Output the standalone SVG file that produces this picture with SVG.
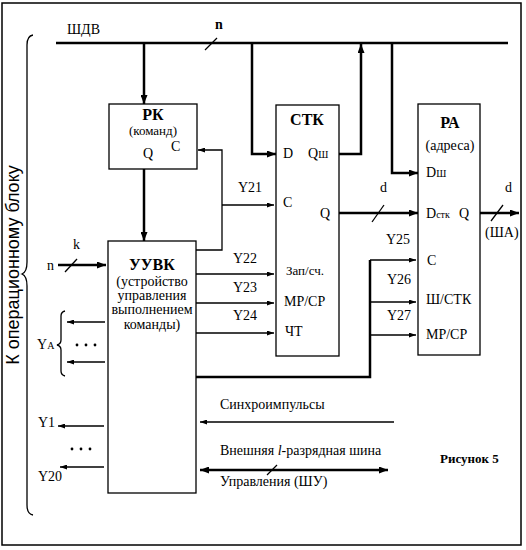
<svg xmlns="http://www.w3.org/2000/svg" width="526" height="550" viewBox="0 0 526 550">
<defs>
<marker id="ah" markerUnits="userSpaceOnUse" markerWidth="9" markerHeight="7" refX="9" refY="3.5" orient="auto-start-reverse"><path d="M0,0 L9,3.5 L0,7 z" fill="#000"/></marker>
<marker id="as" markerUnits="userSpaceOnUse" markerWidth="7" markerHeight="5" refX="7" refY="2.5" orient="auto"><path d="M0,0 L7,2.5 L0,5 z" fill="#000"/></marker>
</defs>
<style>
.b{font-weight:bold}
.box{fill:#fff;stroke:#000;stroke-width:1.3}
.thick{fill:none;stroke:#000;stroke-width:2.5}
.thin{fill:none;stroke:#000;stroke-width:1.3}
.sub{font-size:10px}
</style>
<rect x="2" y="3" width="519" height="542" fill="#fff" stroke="#000" stroke-width="1.5"/>

<g id="side-label">
<path class="thin" d="M33,35 Q27,36 27,45 L27,262 Q27,272 22,274 Q27,276 27,286 L27,505 Q27,514 33,515"/>
<text font-family="Liberation Sans, Arial, sans-serif" transform="translate(19,265) rotate(-90)" text-anchor="middle" font-size="18">К операционному блоку</text>
</g>

<g id="bus" font-family="Liberation Serif, serif" font-size="14">
<line class="thick" x1="56" y1="43" x2="508" y2="43"/>
<line class="thin" x1="205" y1="50" x2="217" y2="38"/>
<text x="67" y="34">ШДВ</text>
<text x="215" y="29" class="b">n</text>
</g>

<g id="RK" font-family="Liberation Serif, serif" font-size="14">
<rect class="box" x="109" y="104" width="88" height="65"/>
<text x="153" y="120" class="b" text-anchor="middle" font-size="16">РК</text>
<text x="153" y="135" text-anchor="middle" font-size="13">(команд)</text>
<text x="143" y="158">Q</text>
<text x="171" y="151">C</text>
</g>

<g id="UUVK" font-family="Liberation Serif, serif" font-size="14">
<rect class="box" x="108" y="241" width="88" height="252"/>
<text x="152" y="270" class="b" text-anchor="middle" font-size="16">УУВК</text>
<text x="152" y="286" text-anchor="middle">(устройство</text>
<text x="152" y="300" text-anchor="middle">управления</text>
<text x="152" y="314" text-anchor="middle">выполнением</text>
<text x="152" y="329" text-anchor="middle">команды)</text>
</g>

<g id="STK" font-family="Liberation Serif, serif" font-size="14">
<rect class="box" x="276" y="105" width="63" height="251"/>
<text x="307" y="125" class="b" text-anchor="middle" font-size="16">СТК</text>
<text x="283" y="158">D</text>
<text x="308" y="158">Q<tspan class="sub">Ш</tspan></text>
<text x="283" y="207">C</text>
<text x="320" y="218">Q</text>
<text x="286" y="275" font-size="13">Зап/сч.</text>
<text x="284" y="306">МР/СР</text>
<text x="285" y="336">ЧТ</text>
</g>

<g id="RA" font-family="Liberation Serif, serif" font-size="14">
<rect class="box" x="418" y="104" width="62" height="251"/>
<text x="450" y="128" class="b" text-anchor="middle" font-size="16">РА</text>
<text x="450" y="150" text-anchor="middle">(адреса)</text>
<text x="426" y="177">D<tspan class="sub">Ш</tspan></text>
<text x="426" y="218">D<tspan class="sub">стк</tspan></text>
<text x="459" y="218">Q</text>
<text x="427" y="265">C</text>
<text x="426" y="304">Ш/СТК</text>
<text x="426" y="339">МР/СР</text>
</g>

<g id="connectors" font-family="Liberation Serif, serif" font-size="14">
<line class="thick" x1="144" y1="43" x2="144" y2="104" marker-end="url(#ah)"/>
<line class="thick" x1="144" y1="169" x2="144" y2="241" marker-end="url(#ah)"/>
<polyline class="thick" points="252,43 252,154 276,154" marker-end="url(#ah)"/>
<polyline class="thick" points="339,154 361,154 361,44" marker-end="url(#ah)"/>
<polyline class="thick" points="392,43 392,173 418,173" marker-end="url(#ah)"/>

<line class="thick" x1="339" y1="213" x2="418" y2="213" marker-end="url(#ah)"/>
<line class="thin" x1="372" y1="222" x2="384" y2="205"/>
<text x="380" y="192">d</text>

<line class="thick" x1="480" y1="213" x2="519" y2="213" marker-end="url(#ah)"/>
<line class="thin" x1="491" y1="221" x2="503" y2="205"/>
<text x="505" y="192">d</text>
<text x="485" y="237">(ША)</text>

<polyline class="thin" points="196,250 222,250 222,150 198,150" marker-end="url(#as)"/>
<line class="thin" x1="222" y1="205" x2="274" y2="205" marker-end="url(#as)"/>
<text x="238" y="192">Y21</text>

<line class="thin" x1="196" y1="274" x2="274" y2="274" marker-end="url(#as)"/>
<text x="233" y="263">Y22</text>
<line class="thin" x1="196" y1="303" x2="274" y2="303" marker-end="url(#as)"/>
<text x="233" y="292">Y23</text>
<line class="thin" x1="196" y1="333" x2="274" y2="333" marker-end="url(#as)"/>
<text x="233" y="320">Y24</text>

<polyline class="thick" points="196,377 370,377 370,260"/>
<line class="thin" x1="370" y1="260" x2="416" y2="260" marker-end="url(#as)"/>
<line class="thin" x1="370" y1="302" x2="416" y2="302" marker-end="url(#as)"/>
<line class="thin" x1="370" y1="335" x2="416" y2="335" marker-end="url(#as)"/>
<text x="386" y="244">Y25</text>
<text x="387" y="284">Y26</text>
<text x="387" y="320">Y27</text>

<line class="thick" x1="58" y1="265" x2="106" y2="265" marker-end="url(#ah)"/>
<line class="thin" x1="65" y1="272" x2="77" y2="259"/>
<text x="47" y="270">n</text>
<text x="73" y="249">k</text>

<line class="thin" x1="105" y1="322" x2="67" y2="322" marker-end="url(#as)"/>
<line class="thin" x1="105" y1="362" x2="67" y2="362" marker-end="url(#as)"/>
<circle cx="77" cy="345" r="1.4"/><circle cx="86" cy="345" r="1.4"/><circle cx="95" cy="345" r="1.4"/>
<path class="thin" d="M65,311 Q61,312 61,316 L61,340 Q61,344 57,345 Q61,346 61,350 L61,371 Q61,375 65,376"/>
<text x="37" y="349">Y<tspan class="sub">A</tspan></text>

<line class="thin" x1="104" y1="426" x2="58" y2="426" marker-end="url(#as)"/>
<text x="38" y="427">Y1</text>
<circle cx="72" cy="449" r="1.4"/><circle cx="81" cy="449" r="1.4"/><circle cx="90" cy="449" r="1.4"/>
<line class="thin" x1="104" y1="467" x2="60" y2="467" marker-end="url(#as)"/>
<text x="38" y="481">Y20</text>

<line class="thin" x1="394" y1="422" x2="200" y2="422" marker-end="url(#as)"/>
<text x="220" y="409">Синхроимпульсы</text>

<line class="thick" x1="200" y1="470" x2="388" y2="470" marker-start="url(#ah)" marker-end="url(#ah)"/>
<line class="thin" x1="267" y1="475" x2="277" y2="465"/>
<text x="220" y="455">Внешняя <tspan font-style="italic">l</tspan>-разрядная шина</text>
<text x="220" y="486">Управления (ШУ)</text>
</g>

<text x="440" y="463" class="b" font-family="Liberation Serif, serif" font-size="13">Рисунок 5</text>
</svg>
